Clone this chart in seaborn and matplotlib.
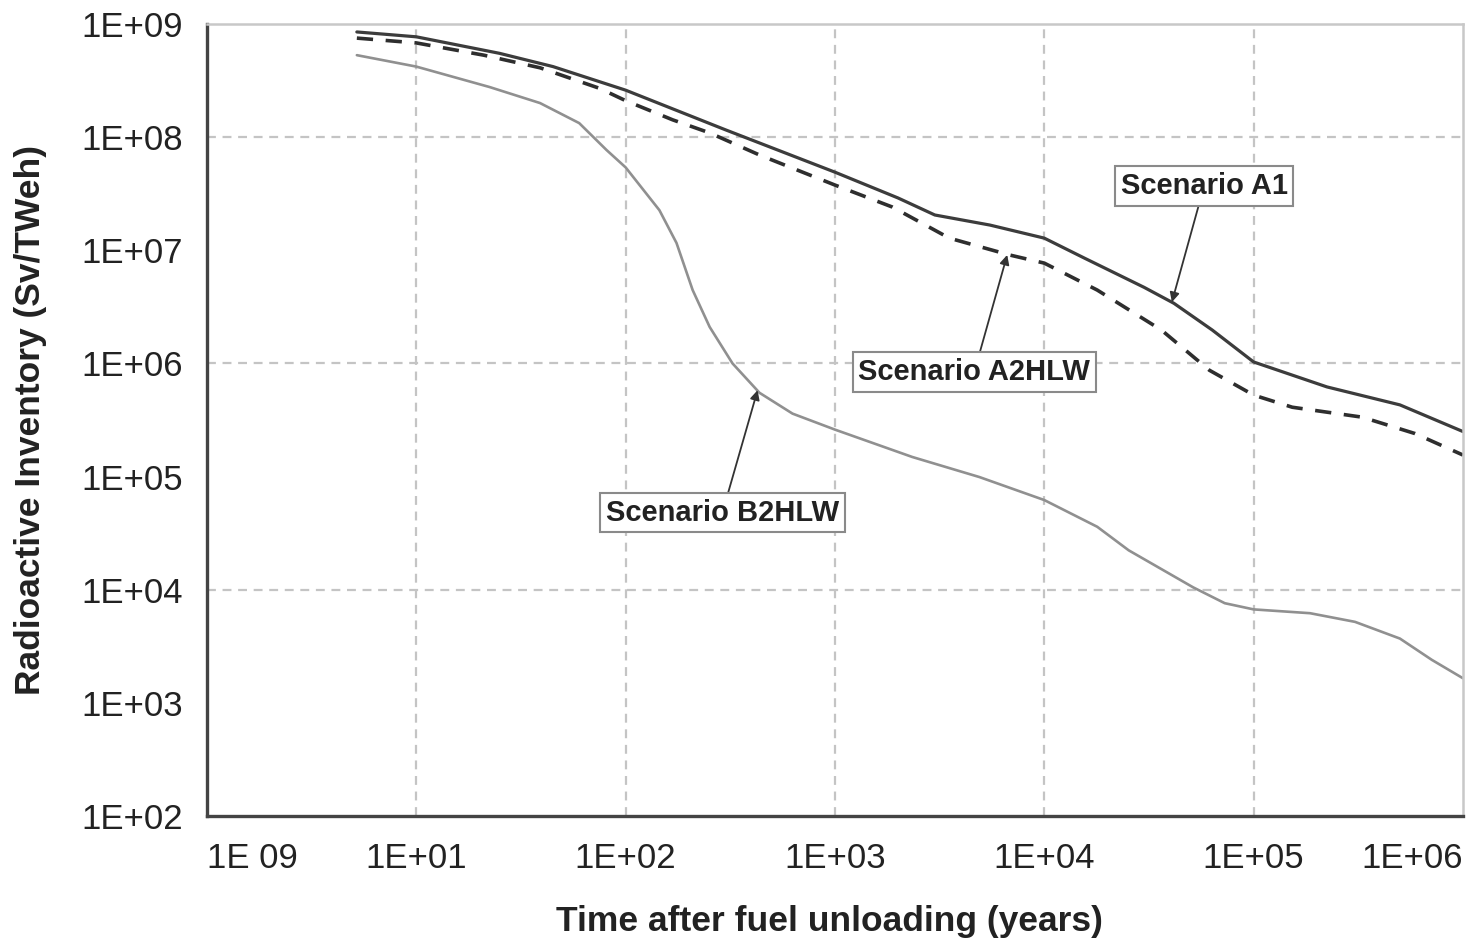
import matplotlib
matplotlib.use('Agg')
import matplotlib.pyplot as plt
import matplotlib.ticker as mticker
import seaborn as sns
import pandas as pd

# Scenario A1 (solid)
a1_years = [5.2, 10, 25, 45, 100, 300, 1000, 2000, 3000, 5500, 10000, 15600, 30000,
            41600, 63500, 100000, 224000, 500000, 1000000]
a1_values = [8.5e8, 7.7e8, 5.5e8, 4.2e8, 2.6e8, 1.16e8, 4.9e7, 2.9e7, 2.05e7, 1.67e7,
             1.28e7, 8.5e6, 4.7e6, 3.4e6, 1.97e6, 1.03e6, 6.2e5, 4.3e5, 2.5e5]

# Scenario A2HLW (dashed)
a2_years = [5.2, 10, 21, 39, 75, 100, 168, 252, 436, 1000, 1880, 3520, 6800, 10000,
            17900, 36300, 61500, 100000, 153000, 330000, 590000, 1000000]
a2_values = [7.5e8, 6.8e8, 5.3e8, 4.1e8, 2.7e8, 2.1e8, 1.42e8, 1.09e8, 6.95e7, 3.77e7,
             2.41e7, 1.28e7, 9.1e6, 7.7e6, 4.45e6, 1.97e6, 8.7e5, 5.25e5, 4.1e5, 3.35e5,
             2.4e5, 1.55e5]

# Scenario B2HLW (grey)
b2_years = [5.2, 10, 22.4, 39, 60, 81, 100, 145, 175, 209, 252, 324, 436, 627, 1000,
            2340, 4900, 10000, 17900, 25300, 51400, 72800, 100000, 186000, 305000,
            500000, 710000, 1000000]
b2_values = [5.3e8, 4.2e8, 2.77e8, 2.0e8, 1.33e8, 7.7e7, 5.4e7, 2.26e7, 1.16e7, 4.45e6,
             2.1e6, 1.0e6, 5.5e5, 3.6e5, 2.6e5, 1.49e5, 9.9e4, 6.2e4, 3.6e4, 2.23e4,
             1.05e4, 7.6e3, 6.7e3, 6.2e3, 5.2e3, 3.7e3, 2.4e3, 1.65e3]

x_ticks = [1, 10, 100, 1000, 10000, 100000, 1000000]
x_tick_labels = ['1E 09', '1E+01', '1E+02', '1E+03', '1E+04', '1E+05', '1E+06']
y_ticks = [1e2, 1e3, 1e4, 1e5, 1e6, 1e7, 1e8, 1e9]
y_tick_labels = ['1E+02', '1E+03', '1E+04', '1E+05', '1E+06', '1E+07', '1E+08', '1E+09']

sns.set_style('white')
plt.rcParams['font.family'] = ['Liberation Sans', 'DejaVu Sans']

fig = plt.figure(figsize=(14.7, 9.4), dpi=100)
ax = fig.add_axes([0.1408, 0.1319, 0.8544, 0.8426])

df_a1 = pd.DataFrame({'years': a1_years, 'value': a1_values})
df_a2 = pd.DataFrame({'years': a2_years, 'value': a2_values})
df_b2 = pd.DataFrame({'years': b2_years, 'value': b2_values})

sns.lineplot(data=df_b2, x='years', y='value', ax=ax, color='#909090', linewidth=1.9,
             estimator=None, sort=False)
sns.lineplot(data=df_a2, x='years', y='value', ax=ax, color='#2e2e2e', linewidth=2.6,
             linestyle=(0, (4.5, 3.5)), estimator=None, sort=False)
sns.lineplot(data=df_a1, x='years', y='value', ax=ax, color='#3c3c3c', linewidth=2.3,
             estimator=None, sort=False)

ax.set_xscale('log')
ax.set_yscale('log')
ax.set_xlim(1, 1e6)
ax.set_ylim(1e2, 1e9)

ax.xaxis.set_major_locator(mticker.FixedLocator(x_ticks))
ax.xaxis.set_minor_locator(mticker.NullLocator())
ax.set_xticklabels(x_tick_labels, fontsize=25, color='#222222')
ax.yaxis.set_major_locator(mticker.FixedLocator(y_ticks))
ax.yaxis.set_minor_locator(mticker.NullLocator())
ax.set_yticklabels(y_tick_labels, fontsize=25, color='#222222')
labels = ax.get_xticklabels()
labels[0].set_horizontalalignment('left')
labels[-1].set_horizontalalignment('right')

ax.tick_params(axis='both', direction='out', length=7, width=1.5, color='#555555')
ax.tick_params(axis='x', pad=12)
ax.tick_params(axis='y', pad=10)

# dashed grid only at selected positions
for xv in x_ticks[1:-1]:
    ax.axvline(xv, color='#c4c4c4', linewidth=1.6, linestyle=(0, (4, 3)), zorder=0)
for yv in [1e4, 1e6, 1e8]:
    ax.axhline(yv, color='#c4c4c4', linewidth=1.6, linestyle=(0, (4, 3)), zorder=0)

for side in ['left', 'bottom']:
    ax.spines[side].set_color('#444444')
    ax.spines[side].set_linewidth(2.4)
for side in ['top', 'right']:
    ax.spines[side].set_color('#c8c8c8')
    ax.spines[side].set_linewidth(1.8)

ax.set_xlabel('Time after fuel unloading (years)', fontsize=25.5, fontweight='bold', color='#222222')
ax.set_ylabel('Radioactive Inventory (Sv/TWeh)', fontsize=25.5, fontweight='bold', color='#222222')
ax.xaxis.set_label_coords(0.496, -0.112)
ax.yaxis.set_label_coords(-0.127, 0.5)

box = dict(boxstyle='square,pad=0.2', facecolor='white', edgecolor='#8a8a8a', linewidth=1.5)
arrow = dict(arrowstyle='-|>', color='#333333', linewidth=1.3, mutation_scale=14, shrinkA=0, shrinkB=0)
ax.annotate('Scenario A1', xy=(4.07e4, 3.48e6), xytext=(5.8e4, 3.7e7),
            fontsize=21, fontweight='bold', color='#222222', ha='center', va='center',
            bbox=box, arrowprops=arrow)
ax.annotate('Scenario A2HLW', xy=(6650, 9.1e6), xytext=(4630, 8.4e5),
            fontsize=21, fontweight='bold', color='#222222', ha='center', va='center',
            bbox=box, arrowprops=arrow)
ax.annotate('Scenario B2HLW', xy=(427, 5.8e5), xytext=(290, 4.8e4),
            fontsize=21, fontweight='bold', color='#222222', ha='center', va='center',
            bbox=box, arrowprops=arrow)

plt.savefig('out.png', dpi=100)
